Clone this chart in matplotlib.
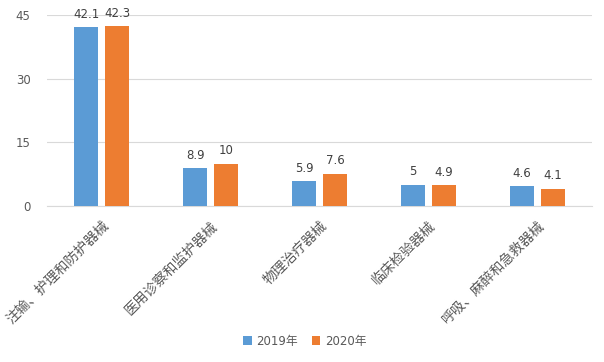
import matplotlib.pyplot as plt
import numpy as np

plt.rcParams['font.family'] = ['DejaVu Sans', 'Noto Sans CJK SC']

categories = ["注输、护理和防护器械", "医用诊察和监护器械", "物理治疗器械", "临床检验器械", "呼吸、麻醉和急救器械"]
v2019 = [42.1, 8.9, 5.9, 5, 4.6]
v2020 = [42.3, 10, 7.6, 4.9, 4.1]
series = ["2019年", "2020年"]

fig = plt.figure(figsize=(6.04, 3.62), dpi=100)
ax = fig.add_axes([0.078, 0.431, 0.902, 0.528])

x = np.arange(len(categories))
w = 0.22
off = 0.142
b1 = ax.bar(x - off, v2019, w, color="#5B9BD5", label=series[0], zorder=3)
b2 = ax.bar(x + off, v2020, w, color="#ED7D31", label=series[1], zorder=3)

for bars, vals in ((b1, v2019), (b2, v2020)):
    for b, v in zip(bars, vals):
        ax.text(b.get_x() + b.get_width() / 2, v + 1.5, f"{v:g}", ha="center", va="bottom",
                fontsize=8.5, color="#404040")

ax.set_xlim(-0.5, len(categories) - 0.5)
ax.set_ylim(0, 45)
ax.set_yticks([0, 15, 30, 45])
ax.yaxis.grid(True, color="#D9D9D9", linewidth=0.8, zorder=0)
for s in ["top", "right", "left"]:
    ax.spines[s].set_visible(False)
ax.spines["bottom"].set_color("#D9D9D9")
ax.tick_params(axis="y", length=0, labelsize=8.5, labelcolor="#595959", pad=12)
ax.tick_params(axis="x", length=0, pad=9)
ax.set_xticks(x)
ax.set_xticklabels(categories, rotation=45, ha="right", rotation_mode="anchor",
                   fontsize=10, color="#595959", family=["Noto Sans CJK SC"])

fig.legend(loc="lower center", bbox_to_anchor=(0.505, 0.01), ncol=2, frameon=False,
           handlelength=0.7, handleheight=0.7, handletextpad=0.4,
           columnspacing=1.2, labelcolor="#595959",
           prop={"family": ["DejaVu Sans", "Noto Sans CJK SC"], "size": 8.5})

fig.savefig("out.png", dpi=100)
